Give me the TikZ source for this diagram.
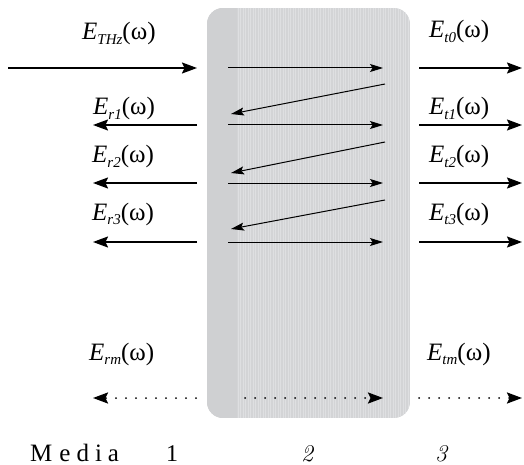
\documentclass[tikz,border=0pt]{standalone}
\usepackage[no-math]{fontspec}
\setmainfont{Liberation Serif}
\usetikzlibrary{arrows.meta}
\definecolor{boxdark}{HTML}{CFD0D2}
\definecolor{boxmain}{HTML}{D3D4D6}
\definecolor{stripe}{HTML}{DEDFE1}
\newcommand\fld[1]{\textit{E}\raisebox{-4.5pt}{\fontsize{15}{15}\selectfont\textit{#1}}(ω)}
\begin{document}
\begin{tikzpicture}[x=1pt,y=-1pt,
  thickarr/.style={line width=1.8pt,-{Stealth[length=15pt,width=11pt,inset=2.5pt]}},
  thinarr/.style={line width=1pt,-{Stealth[length=13pt,width=8pt,inset=2.5pt]}},
  dotarr/.style={line width=2pt,line cap=round,dash pattern=on 0pt off 10pt,-{Stealth[length=15pt,width=11pt,inset=2.5pt]}},
  lbl/.style={font=\fontsize{25}{26}\selectfont,inner sep=0pt,anchor=base west},
  media/.style={font=\fontsize{24}{24}\selectfont,inner sep=0pt,anchor=base}]
\useasboundingbox (0,0) rectangle (524,465);
% slab
\begin{scope}
\clip[rounded corners=16pt] (207,8) rectangle (410,418);
\fill[boxmain] (207,8) rectangle (410,418);
\fill[boxdark] (207,8) rectangle (237,418);
\foreach \x in {238,240.5,...,409}{\draw[stripe,line width=0.9pt] (\x,8) -- (\x,418);}
\end{scope}
% coordinates
\coordinate (i0) at (8,68);   \coordinate (i1) at (197,68);
\foreach \n/\y in {0/68,1/125,2/183,3/242}{
  \coordinate (a\n) at (228,\y); \coordinate (b\n) at (383,\y);
  \coordinate (t\n) at (419,\y); \coordinate (u\n) at (522,\y);
}
\foreach \n/\y in {1/125,2/183,3/242}{
  \coordinate (l\n) at (197,\y); \coordinate (m\n) at (93,\y);
}
\coordinate (s1) at (385,84);  \coordinate (e1) at (231,114);
\coordinate (s2) at (385,142); \coordinate (e2) at (231,173);
\coordinate (s3) at (385,200); \coordinate (e3) at (231,229);
% arrows
\draw[thickarr] (i0) -- (i1);
\foreach \n in {0,1,2,3}{
  \draw[thinarr] (a\n) -- (b\n);
  \draw[thickarr] (t\n) -- (u\n);
}
\foreach \n in {1,2,3}{
  \draw[thickarr] (l\n) -- (m\n);
  \draw[thinarr] (s\n) -- (e\n);
}
% dotted row
\coordinate (dl0) at (196,398); \coordinate (dl1) at (93,398);
\coordinate (dm0) at (245,398); \coordinate (dm1) at (383,398);
\coordinate (dr0) at (419,398); \coordinate (dr1) at (522,398);
\draw[dotarr] (dl0) -- (dl1);
\draw[dotarr] (dm0) -- (dm1);
\draw[dotarr] (dr0) -- (dr1);
% labels
\node[lbl] (lthz) at (82,40) {\fld{THz}};
\node[lbl] (lt0) at (429,38) {\fld{t0}};
\node[lbl] (lr1) at (93,115) {\fld{r1}};
\node[lbl] (lt1) at (429,115) {\fld{t1}};
\node[lbl] (lr2) at (92,163) {\fld{r2}};
\node[lbl] (lt2) at (429,163) {\fld{t2}};
\node[lbl] (lr3) at (92,220) {\fld{r3}};
\node[lbl] (lt3) at (429,220) {\fld{t3}};
\node[lbl] (lrm) at (89,360) {\fld{rm}};
\node[lbl] (ltm) at (427,360) {\fld{tm}};
% media labels
\node[lbl] (med) at (30,461) {M\hspace{7pt}e\hspace{6pt}d\hspace{6pt}i\hspace{6pt}a};
\node[media] (m1) at (172,461) {1};
\node[media] (m2) at (307,461) {\fontfamily{lmr}\selectfont\itshape 2};
\node[media] (m3) at (441,461) {\fontfamily{lmr}\selectfont\itshape 3};
\end{tikzpicture}
\end{document}
